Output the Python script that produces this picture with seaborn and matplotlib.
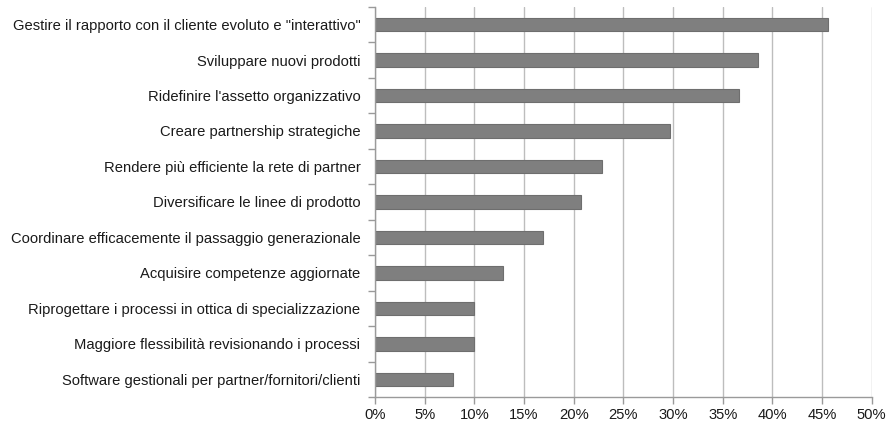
import matplotlib
matplotlib.use("Agg")
import matplotlib.pyplot as plt
from matplotlib.ticker import FixedLocator, PercentFormatter
import seaborn as sns
import pandas as pd
import numpy as np

categories = [
    'Gestire il rapporto con il cliente evoluto e "interattivo"',
    "Sviluppare nuovi prodotti",
    "Ridefinire l'assetto organizzativo",
    "Creare partnership strategiche",
    "Rendere più efficiente la rete di partner",
    "Diversificare le linee di prodotto",
    "Coordinare efficacemente il passaggio generazionale",
    "Acquisire competenze aggiornate",
    "Riprogettare i processi in ottica di specializzazione",
    "Maggiore flessibilità revisionando i processi",
    "Software gestionali per partner/fornitori/clienti",
]
values = [45.6, 38.6, 36.6, 29.7, 22.8, 20.7, 16.9, 12.9, 10.0, 10.0, 7.9]
x_ticks = [0, 5, 10, 15, 20, 25, 30, 35, 40, 45, 50]

df = pd.DataFrame({"categoria": categories, "percentuale": values})

sns.set_style("white")
plt.rcParams["font.family"] = ["Liberation Sans", "DejaVu Sans"]

fig = plt.figure(figsize=(8.95, 4.26), dpi=100)
ax = fig.add_axes([0.419, 0.068, 0.555, 0.916])

sns.barplot(data=df, x="percentuale", y="categoria", orient="h",
            color="#7f7f7f", saturation=1, width=0.38,
            edgecolor="#6e6e6e", linewidth=0.8, ax=ax)

ax.set_xlim(0, 50)
ax.set_ylim(len(categories) - 0.5, -0.5)
ax.xaxis.set_major_locator(FixedLocator(x_ticks))
ax.xaxis.set_major_formatter(PercentFormatter(decimals=0))
ax.set_xlabel("")
ax.set_ylabel("")

# vertical gridlines
ax.set_axisbelow(True)
ax.grid(axis="x", color="#bdbdbd", linewidth=1.0)
ax.grid(axis="y", visible=False)

for s in ["top", "right"]:
    ax.spines[s].set_visible(False)
for s in ["left", "bottom"]:
    ax.spines[s].set_color("#9a9a9a")
    ax.spines[s].set_linewidth(1.0)

# category boundary ticks on the value axis
ax.yaxis.set_minor_locator(FixedLocator(np.arange(-0.5, len(categories), 1.0)))
ax.tick_params(axis="y", which="major", left=True, length=0, pad=10.5,
               labelsize=10.6, labelcolor="#1a1a1a")
ax.tick_params(axis="y", which="minor", left=True, length=5,
               color="#9a9a9a", width=1.0)
ax.tick_params(axis="x", which="major", bottom=True, length=5,
               color="#9a9a9a", width=1.0, pad=3,
               labelsize=10.6, labelcolor="#1a1a1a")

fig.savefig("out.png", dpi=100)
